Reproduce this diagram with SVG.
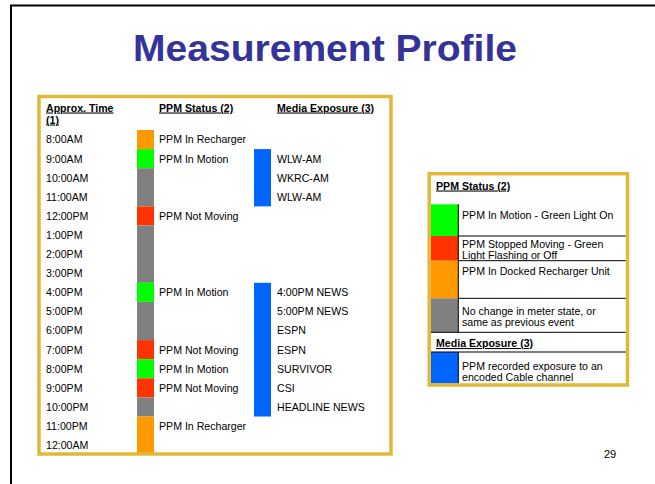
<svg xmlns="http://www.w3.org/2000/svg" width="655" height="484" viewBox="0 0 655 484">
<style>
text{font-family:"Liberation Sans",Arial,sans-serif;fill:#000}
.t{font-size:10.6px}
.h{font-size:10.6px;font-weight:bold;text-decoration:underline}
.gold{fill:none;stroke:#E1B93A;stroke-width:3.5}
.ln{stroke:#000;stroke-width:1}
.or{fill:#FF9900}.gr{fill:#00FF00}.rd{fill:#FF3300}.gy{fill:#808080}.bl{fill:#0066FF}
</style>
<rect width="655" height="484" fill="#fff"/>
<rect x="11" y="5.5" width="660" height="500" fill="none" stroke="#000" stroke-width="2"/>
<text id="title" x="133" y="61" font-size="37" font-weight="bold" style="fill:#333399" textLength="384" lengthAdjust="spacingAndGlyphs">Measurement Profile</text>

<g id="timeline">
<g id="bars">
<rect class="or" x="137" y="130" width="17" height="19.1"/>
<rect class="gr" x="137" y="149.1" width="17" height="19.1"/>
<rect class="gy" x="137" y="168.2" width="17" height="38.2"/>
<rect class="rd" x="137" y="206.4" width="17" height="19.1"/>
<rect class="gy" x="137" y="225.5" width="17" height="57.3"/>
<rect class="gr" x="137" y="282.8" width="17" height="19.1"/>
<rect class="gy" x="137" y="301.9" width="17" height="38.2"/>
<rect class="rd" x="137" y="340.1" width="17" height="19.1"/>
<rect class="gr" x="137" y="359.2" width="17" height="19.1"/>
<rect class="rd" x="137" y="378.3" width="17" height="19.1"/>
<rect class="gy" x="137" y="397.4" width="17" height="19.1"/>
<rect class="or" x="137" y="416.5" width="17" height="38.2"/>
<rect class="bl" x="254" y="149.1" width="17" height="57.3"/>
<rect class="bl" x="254" y="282.8" width="17" height="133.7"/>
</g>
<rect class="gold" x="39" y="96.5" width="352" height="357.5"/>
<g id="headers">
<text class="h" x="46" y="111.5">Approx. Time</text>
<text class="h" x="46" y="123.5">(1)</text>
<text class="h" x="159" y="111.5">PPM Status (2)</text>
<text class="h" x="277" y="111.5">Media Exposure (3)</text>
</g>
<g id="times">
<text class="t" x="46" y="143.4">8:00AM</text>
<text class="t" x="46" y="162.5">9:00AM</text>
<text class="t" x="46" y="181.6">10:00AM</text>
<text class="t" x="46" y="200.7">11:00AM</text>
<text class="t" x="46" y="219.8">12:00PM</text>
<text class="t" x="46" y="238.9">1:00PM</text>
<text class="t" x="46" y="258">2:00PM</text>
<text class="t" x="46" y="277.1">3:00PM</text>
<text class="t" x="46" y="296.2">4:00PM</text>
<text class="t" x="46" y="315.3">5:00PM</text>
<text class="t" x="46" y="334.4">6:00PM</text>
<text class="t" x="46" y="353.5">7:00PM</text>
<text class="t" x="46" y="372.6">8:00PM</text>
<text class="t" x="46" y="391.7">9:00PM</text>
<text class="t" x="46" y="410.8">10:00PM</text>
<text class="t" x="46" y="429.9">11:00PM</text>
<text class="t" x="46" y="449">12:00AM</text>
</g>
<g id="status">
<text class="t" x="159" y="143.4">PPM In Recharger</text>
<text class="t" x="159" y="162.5">PPM In Motion</text>
<text class="t" x="159" y="219.8">PPM Not Moving</text>
<text class="t" x="159" y="296.2">PPM In Motion</text>
<text class="t" x="159" y="353.5">PPM Not Moving</text>
<text class="t" x="159" y="372.6">PPM In Motion</text>
<text class="t" x="159" y="391.7">PPM Not Moving</text>
<text class="t" x="159" y="429.9">PPM In Recharger</text>
</g>
<g id="media">
<text class="t" x="277" y="162.5">WLW-AM</text>
<text class="t" x="277" y="181.6">WKRC-AM</text>
<text class="t" x="277" y="200.7">WLW-AM</text>
<text class="t" x="277" y="296.2">4:00PM NEWS</text>
<text class="t" x="277" y="315.3">5:00PM NEWS</text>
<text class="t" x="277" y="334.4">ESPN</text>
<text class="t" x="277" y="353.5">ESPN</text>
<text class="t" x="277" y="372.6">SURVIVOR</text>
<text class="t" x="277" y="391.7">CSI</text>
<text class="t" x="277" y="410.8">HEADLINE NEWS</text>
</g>
</g>

<g id="legend">
<rect class="gr" x="431" y="204.3" width="27.3" height="31.7"/>
<rect class="rd" x="431" y="236" width="27.3" height="24.7"/>
<rect class="or" x="431" y="260.7" width="27.3" height="37.6"/>
<rect class="gy" x="431" y="298.3" width="27.3" height="34"/>
<rect class="bl" x="431" y="352" width="27.3" height="31.5"/>
<g id="legend-lines">
<line class="ln" x1="458.3" y1="204.3" x2="458.3" y2="332.3"/>
<line class="ln" x1="458.3" y1="352" x2="458.3" y2="383.5"/>
<line class="ln" x1="458.3" y1="236" x2="626" y2="236"/>
<line class="ln" x1="458.3" y1="260.7" x2="626" y2="260.7"/>
<line class="ln" x1="458.3" y1="298.3" x2="626" y2="298.3"/>
<line class="ln" x1="431" y1="332.3" x2="626" y2="332.3"/>
<line class="ln" x1="431" y1="352" x2="626" y2="352"/>
</g>
<rect class="gold" x="429.2" y="173.7" width="198.3" height="211.3"/>
<text class="h" x="436" y="189.5">PPM Status (2)</text>
<text class="t" x="462" y="218.8">PPM In Motion - Green Light On</text>
<text class="t" x="462" y="248.3">PPM Stopped Moving - Green</text>
<text class="t" x="462" y="259.3">Light Flashing or Off</text>
<text class="t" x="462" y="274.8">PPM In Docked Recharger Unit</text>
<text class="t" x="462" y="314.5">No change in meter state, or</text>
<text class="t" x="462" y="325.5">same as previous event</text>
<text class="h" x="436" y="347">Media Exposure (3)</text>
<text class="t" x="462" y="370.2">PPM recorded exposure to an</text>
<text class="t" x="462" y="381.2">encoded Cable channel</text>
</g>
<text id="page" x="610" y="458" font-size="11" text-anchor="middle">29</text>
</svg>
